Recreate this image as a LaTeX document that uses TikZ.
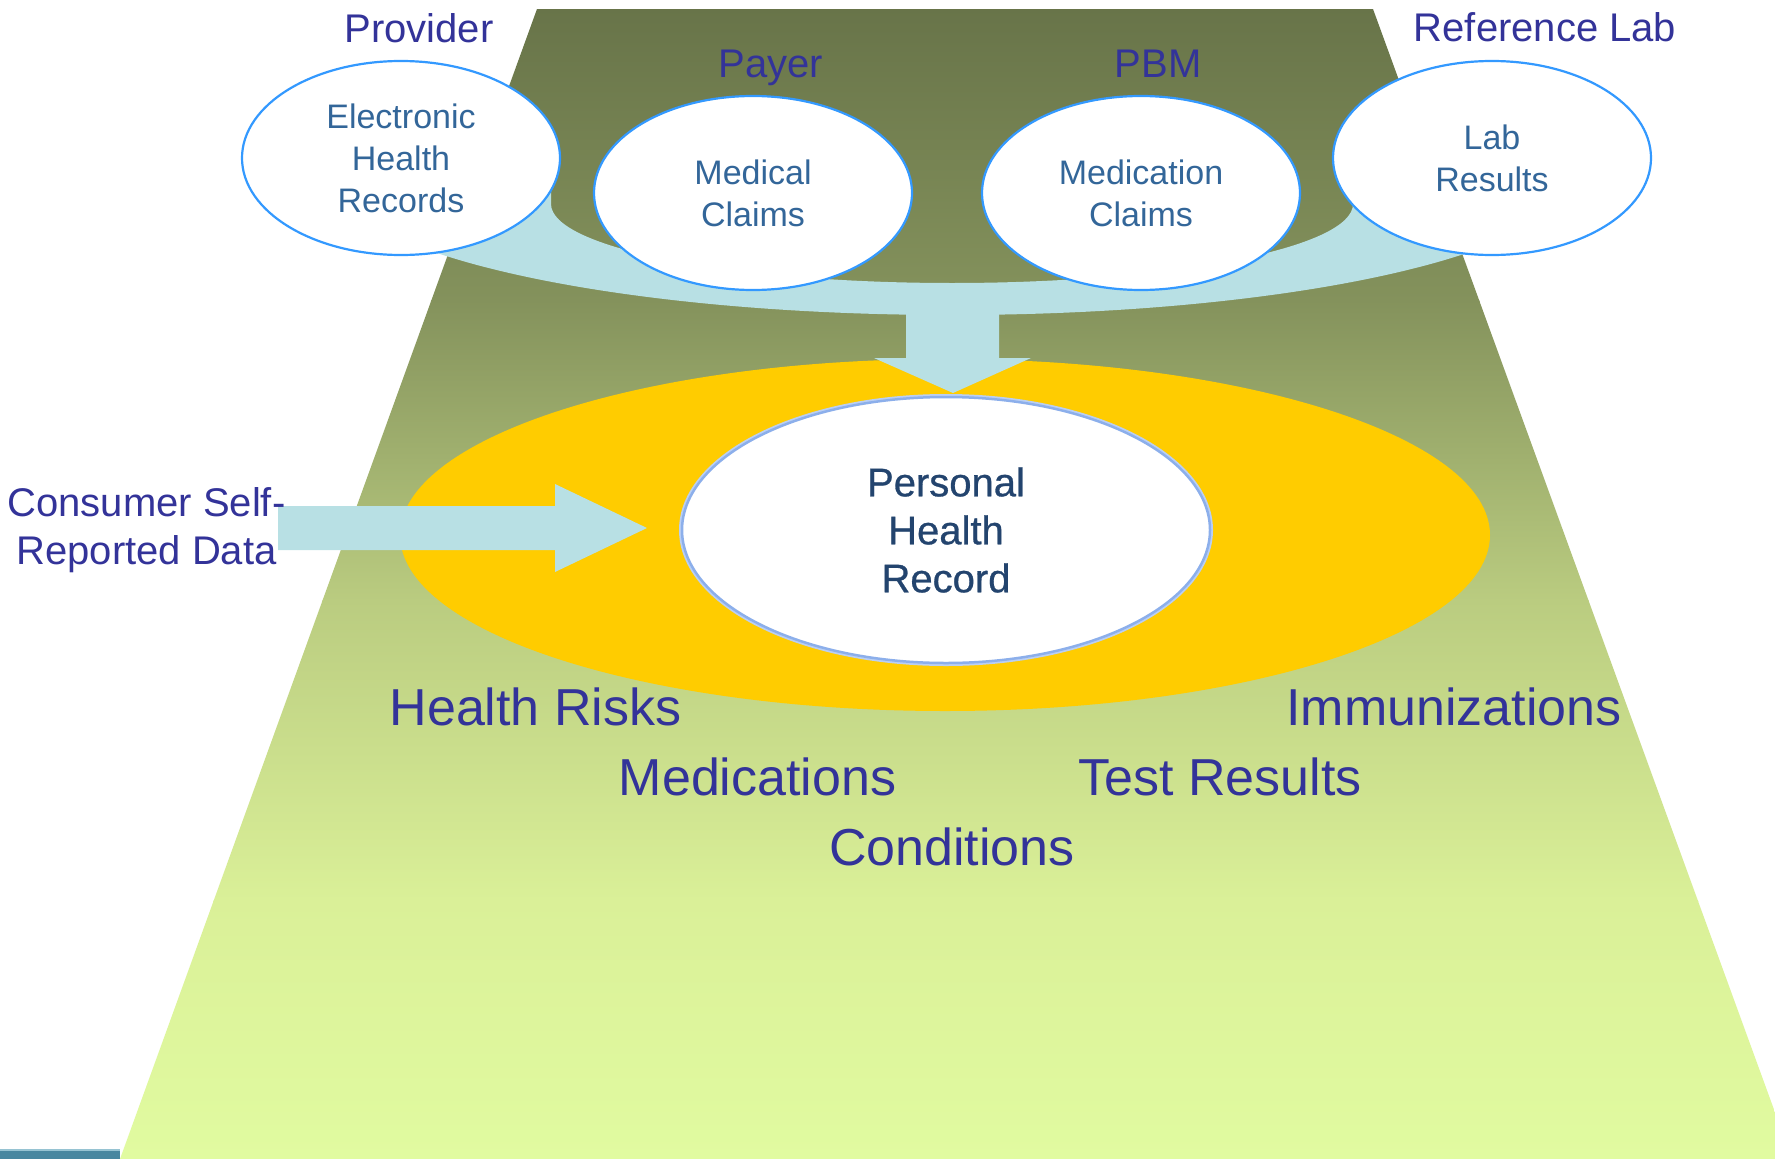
\documentclass[tikz,border=0pt]{standalone}
\usepackage{fontspec}
\setmainfont{Liberation Sans}
\newfontfamily\phrfont{Liberation Sans}[FakeBold=0.7]
\usetikzlibrary{shapes.geometric}
\definecolor{lbl}{RGB}{51,51,153}
\definecolor{etxt}{RGB}{51,102,153}
\definecolor{eline}{RGB}{51,153,255}
\definecolor{bandc}{RGB}{184,224,228}
\definecolor{gold}{RGB}{255,204,0}
\definecolor{phrtxt}{RGB}{35,68,110}
\definecolor{phrline}{RGB}{140,175,235}
\definecolor{bgA}{RGB}{104,116,73}
\definecolor{bgB}{RGB}{132,146,92}
\definecolor{bgC}{RGB}{186,204,128}
\definecolor{bgD}{RGB}{218,240,152}
\definecolor{bgE}{RGB}{225,251,160}
\definecolor{footbar}{RGB}{72,135,160}
\definecolor{footline}{RGB}{150,195,210}
\begin{document}
\begin{tikzpicture}[x=1pt,y=-1pt,
  src/.style={ellipse, draw=eline, line width=2.2pt, fill=white, minimum width=318pt, minimum height=194pt, inner sep=0pt, align=center, text=etxt, font=\fontsize{34}{42}\selectfont},
  org/.style={anchor=base, text=lbl, font=\fontsize{40}{48}\selectfont, inner sep=0pt},
  item/.style={anchor=base, text=lbl, font=\fontsize{52}{62}\selectfont, inner sep=0pt},
  flow/.style={fill=bandc}]
\useasboundingbox (0,0) rectangle (1775,1159);
\fill[white] (0,0) rectangle (1775,1159);
% background trapezoid with gradient
\begin{scope}
  \clip (537,9) -- (1373,9) -- (1792,1159) -- (120,1159) -- cycle;
  \shade[top color=bgA, bottom color=bgB] (0,8) rectangle (1800,301);
  \shade[top color=bgB, bottom color=bgC] (0,300) rectangle (1800,601);
  \shade[top color=bgC, bottom color=bgD] (0,600) rectangle (1800,901);
  \shade[top color=bgD, bottom color=bgE] (0,900) rectangle (1800,1160);
\end{scope}
% footer bar
\fill[footbar] (0,1151) rectangle (120,1159);
\fill[footline] (0,1149) rectangle (120,1151);
% yellow ellipse
\fill[gold] (945,535) ellipse [x radius=545, y radius=176];
% blue collecting band
\fill[flow] (332,150) -- (332,175) arc[start angle=180, end angle=0, x radius=620, y radius=140]
  -- (1572,150) -- (1353,150) -- (1353,204) arc[start angle=0, end angle=180, x radius=401, y radius=79]
  -- (551,150) -- cycle;
% down arrow
\fill[flow] (906,300) -- (906,358) -- (874,358) -- (953,393) -- (1031,358) -- (999,358) -- (999,300) -- cycle;
% source ellipses
\node[src] (ehr) at (401,158) {Electronic\\Health\\Records};
\node[src] (med) at (753,193) {Medical\\Claims};
\node[src] (rx) at (1141,193) {Medication\\Claims};
\node[src] (lab) at (1492,158) {Lab\\Results};
% organisation labels
\node[org] (prov) at (419,42) {Provider};
\node[org] (payer) at (771,77) {Payer};
\node[org] (pbm) at (1158,77) {PBM};
\node[org] (reflab) at (1545,41) {Reference Lab};
% left arrow
\fill[flow] (278,506) -- (555,506) -- (555,484) -- (647,528) -- (555,572) -- (555,550) -- (278,550) -- cycle;
% PHR
\node[ellipse, draw=phrline!60, line width=6pt, minimum width=528pt, minimum height=266pt, inner sep=0pt] (phrglow) at (946,530) {};
\node[ellipse, draw=phrline, line width=2.5pt, fill=white, minimum width=528pt, minimum height=266pt, inner sep=0pt, align=center, text=phrtxt, font=\phrfont\fontsize{40}{48}\selectfont] (phr) at (946,530) {Personal\\Health\\Record};
% consumer text
\node[align=center, text=lbl, font=\fontsize{40}{48}\selectfont, inner sep=0pt] (cons) at (146.5,530.5) {Consumer Self-\\Reported Data};
% record contents
\node[item] (risk) at (535.5,725) {Health Risks};
\node[item] (imm) at (1454,725) {Immunizations};
\node[item] (meds) at (757.5,795) {Medications};
\node[item] (test) at (1220,795) {Test Results};
\node[item] (cond) at (952,865) {Conditions};
\end{tikzpicture}
\end{document}
